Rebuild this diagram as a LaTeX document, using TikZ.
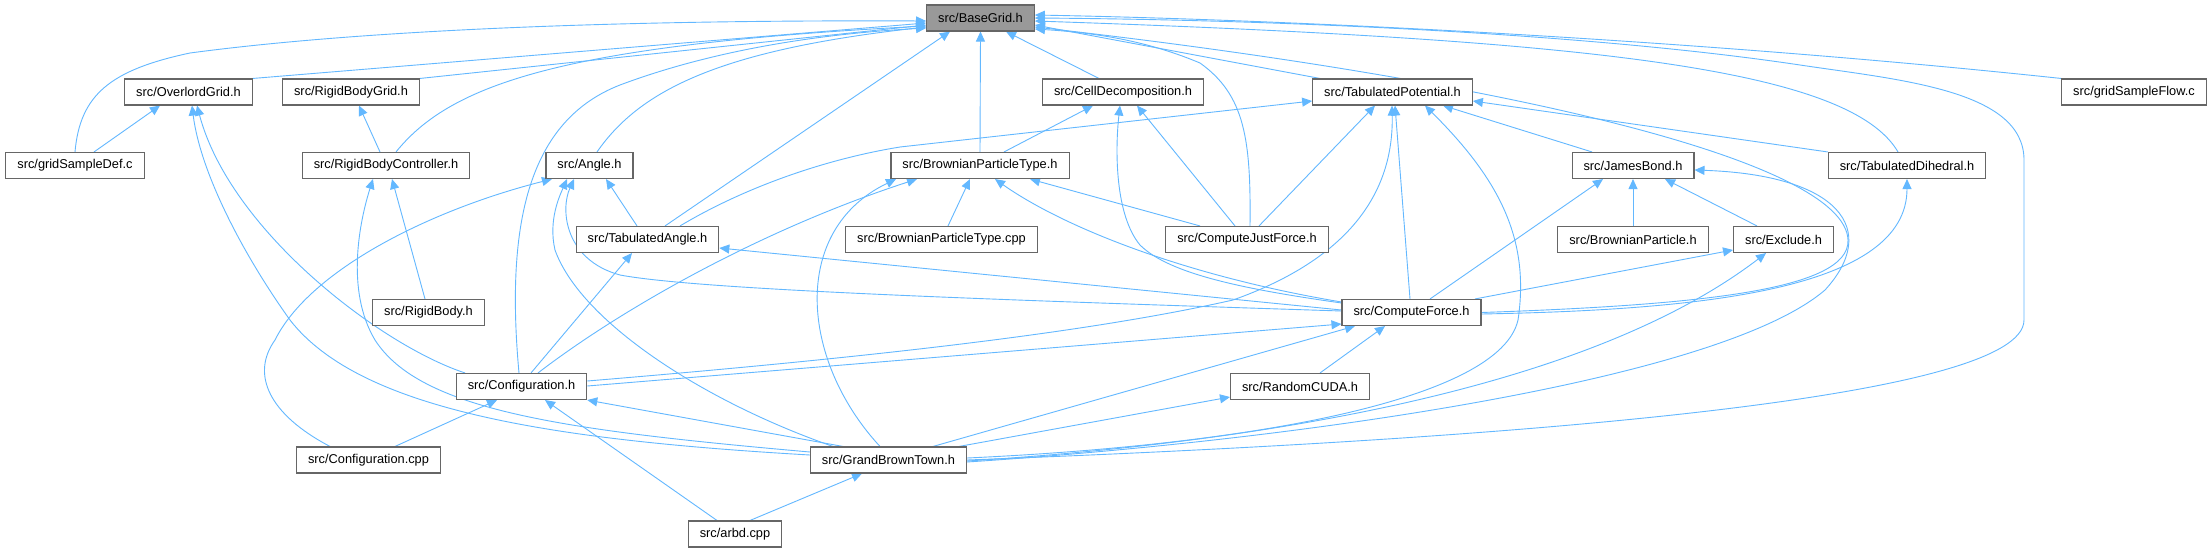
\documentclass[tikz,border=0pt]{standalone}
\usepackage{fontspec}
\setmainfont{Liberation Sans}
\usetikzlibrary{arrows.meta}
\definecolor{edgeblue}{HTML}{63B8FF}
\definecolor{boxgray}{HTML}{666666}
\definecolor{rootfill}{HTML}{999999}
\pgfdeclarelayer{backdrop}
\pgfdeclarelayer{edges}
\pgfsetlayers{backdrop,edges,main}
\begin{document}
\begin{tikzpicture}[x=1pt,y=-1pt,
  box/.style={draw=boxgray, line width=1.1pt, fill=white, minimum height=26pt, inner xsep=11.5pt, inner ysep=0pt, font=\fontsize{12.8}{14}\selectfont, text=black},
  root/.style={box, fill=rootfill},
  dep/.style={draw=edgeblue, line width=0.9pt, -{Triangle[length=10pt,width=9pt]}}]
\begin{pgfonlayer}{backdrop}
\fill[white] (0,0) rectangle (2212,552);
\end{pgfonlayer}
\useasboundingbox (0,0) rectangle (2212,552);
% nodes
\node[root] (BG) at (980.5,18) {src/BaseGrid.h};
\node[box] (OG) at (188.5,92) {src/OverlordGrid.h};
\node[box] (RBG) at (351,92) {src/RigidBodyGrid.h};
\node[box] (CD) at (1123,92) {src/CellDecomposition.h};
\node[box] (TP) at (1392.5,92) {src/TabulatedPotential.h};
\node[box] (GSF) at (2134,92) {src/gridSampleFlow.c};
\node[box] (GSD) at (75,165.5) {src/gridSampleDef.c};
\node[box] (RBC) at (386,165.5) {src/RigidBodyController.h};
\node[box] (AN) at (589.5,165.5) {src/Angle.h};
\node[box] (BPT) at (980,165.5) {src/BrownianParticleType.h};
\node[box] (JB) at (1633,165.5) {src/JamesBond.h};
\node[box] (TD) at (1907,165.5) {src/TabulatedDihedral.h};
\node[box] (TA) at (647.5,239.5) {src/TabulatedAngle.h};
\node[box] (BPTC) at (941.5,239.5) {src/BrownianParticleType.cpp};
\node[box] (CJF) at (1247,239.5) {src/ComputeJustForce.h};
\node[box] (BP) at (1633,239.5) {src/BrownianParticle.h};
\node[box] (EX) at (1783.5,239.5) {src/Exclude.h};
\node[box] (RB) at (428.5,312.5) {src/RigidBody.h};
\node[box] (CF) at (1411.5,312.5) {src/ComputeForce.h};
\node[box] (CH) at (521.5,386.5) {src/Configuration.h};
\node[box] (RC) at (1300,386.5) {src/RandomCUDA.h};
\node[box] (CC) at (368.5,460) {src/Configuration.cpp};
\node[box] (GBT) at (888.5,460) {src/GrandBrownTown.h};
\node[box] (ARBD) at (735,534) {src/arbd.cpp};
\begin{pgfonlayer}{edges}
% into BaseGrid
\draw[dep] (GSD.north -| 75,0) .. controls (80,95) and (110,70) .. (190,53) .. controls (400,25) and (700,20) .. (BG.west |- 0,21);
\draw[dep] (OG.north east) -- (BG.west |- 0,23);
\draw[dep] (RBG.north east) -- (BG.west |- 0,25);
\draw[dep] (RBC.north -| 396,0) .. controls (450,85) and (560,45) .. (BG.west |- 0,26);
\draw[dep] (AN.north -| 597,0) .. controls (640,90) and (720,50) .. (BG.west |- 0,27);
\draw[dep] (CH.north -| 519,0) .. controls (505,220) and (530,120) .. (620,85) .. controls (700,55) and (800,35) .. (BG.west |- 0,28);
\draw[dep] (TA.north -| 665,0) -- (BG.south -| 950,0);
\draw[dep] (BPT.north) -- (BG.south);
\draw[dep] (CD.north -| 1099,0) -- (BG.south -| 1006,0);
\draw[dep] (TP.north -| 1320,0) -- (BG.east |- 0,25);
\draw[dep] (CJF.north -| 1250,0) .. controls (1251,140) and (1245,95) .. (1200,63) .. controls (1150,42) and (1100,33) .. (BG.east |- 0,29);
\draw[dep] (CF.east) .. controls (1700,305) and (1850,290) .. (1848,240) .. controls (1845,160) and (1500,80) .. (BG.east |- 0,27);
\draw[dep] (TD.north -| 1898,0) .. controls (1850,70) and (1600,40) .. (BG.east |- 0,21);
\draw[dep] (GBT.east) .. controls (1500,440) and (2024,400) .. (2024,320) -- (2024,160) .. controls (2024,90) and (1900,80) .. (1800,65) .. controls (1600,35) and (1300,20) .. (BG.east |- 0,18);
\draw[dep] (GSF.north west) .. controls (1700,40) and (1300,20) .. (BG.east |- 0,15);
% OverlordGrid
\draw[dep] (GSD.north -| 94,0) -- (OG.south -| 160,0);
\draw[dep] (CH.north -| 465,0) .. controls (380,345) and (230,230) .. (OG.south -| 197,0);
\draw[dep] (GBT.west |- 0,455) .. controls (550,440) and (360,410) .. (290,320) .. controls (240,250) and (200,170) .. (OG.south -| 192,0);
% RigidBodyGrid
\draw[dep] (RBC.north -| 380,0) -- (RBG.south -| 359,0);
% RigidBodyController
\draw[dep] (RB.north -| 425,0) -- (RBC.south -| 392,0);
\draw[dep] (GBT.west |- 0,452) .. controls (560,430) and (420,410) .. (375,340) .. controls (345,290) and (360,220) .. (RBC.south -| 373,0);
% Angle
\draw[dep] (CC.north -| 330,0) .. controls (270,415) and (250,375) .. (275,340) .. controls (310,270) and (430,210) .. (AN.south -| 552,0);
\draw[dep] (TA.north -| 637,0) -- (AN.south -| 606,0);
\draw[dep] (GBT.north -| 833,0) .. controls (700,400) and (580,320) .. (555,250) .. controls (548,220) and (560,195) .. (AN.south -| 567,0);
\draw[dep] (CF.west |- 0,311) .. controls (1000,300) and (700,290) .. (620,275) .. controls (565,260) and (560,210) .. (AN.south -| 574,0);
% TabulatedAngle
\draw[dep] (CF.west |- 0,310) -- (TA.east |- 0,248);
\draw[dep] (CH.north -| 531,0) -- (TA.south -| 632,0);
% TabulatedPotential
\draw[dep] (TA.north -| 680,0) .. controls (740,190) and (820,160) .. (900,147) -- (TP.west |- 0,101);
\draw[dep] (CJF.north -| 1259,0) -- (TP.south -| 1375,0);
\draw[dep] (CF.north -| 1410,0) -- (TP.south -| 1395,0);
\draw[dep] (CH.east |- 0,381) .. controls (900,355) and (1100,330) .. (1233,300) .. controls (1340,262) and (1394,200) .. (TP.south -| 1392,0);
\draw[dep] (GBT.east |- 0,458) .. controls (1250,445) and (1500,400) .. (1518,320) .. controls (1530,240) and (1500,180) .. (TP.south -| 1425,0);
\draw[dep] (JB.north -| 1592,0) -- (TP.south -| 1443,0);
\draw[dep] (TD.north west) -- (TP.east |- 0,101);
% CellDecomposition
\draw[dep] (BPT.north -| 1004,0) -- (CD.south -| 1093,0);
\draw[dep] (CJF.north -| 1235,0) -- (CD.south -| 1137,0);
\draw[dep] (CF.west |- 0,303) .. controls (1250,290) and (1170,275) .. (1140,245) .. controls (1115,215) and (1115,150) .. (CD.south -| 1120,0);
% BrownianParticleType.h
\draw[dep] (CH.north -| 538,0) .. controls (620,310) and (760,230) .. (BPT.south -| 917,0);
\draw[dep] (GBT.north -| 880,0) .. controls (800,360) and (790,230) .. (BPT.south -| 896,0);
\draw[dep] (BPTC.north -| 948,0) -- (BPT.south -| 970,0);
\draw[dep] (CF.west |- 0,302) .. controls (1180,275) and (1060,225) .. (BPT.south -| 995,0);
\draw[dep] (CJF.north -| 1200,0) -- (BPT.south -| 1030,0);
% JamesBond
\draw[dep] (CF.north -| 1430,0) -- (JB.south -| 1603,0);
\draw[dep] (BP.north) -- (JB.south);
\draw[dep] (EX.north -| 1757,0) -- (JB.south -| 1665,0);
\draw[dep] (GBT.east |- 0,462) .. controls (1300,440) and (1720,380) .. (1825,290) .. controls (1880,230) and (1840,175) .. (JB.east |- 0,170);
% TabulatedDihedral
\draw[dep] (CF.east |- 0,314) .. controls (1700,310) and (1907,290) .. (TD.south);
% Exclude
\draw[dep] (CF.north -| 1475,0) -- (EX.west |- 0,250);
\draw[dep] (GBT.east |- 0,461) .. controls (1300,440) and (1600,380) .. (EX.south -| 1766,0);
% ComputeForce
\draw[dep] (CH.east |- 0,386) -- (CF.west |- 0,324);
\draw[dep] (GBT.north -| 933,0) -- (CF.south -| 1355,0);
\draw[dep] (RC.north -| 1320,0) -- (CF.south -| 1385,0);
% RandomCUDA
\draw[dep] (GBT.north -| 959,0) -- (RC.west |- 0,397);
% Configuration.h
\draw[dep] (GBT.north -| 843,0) -- (CH.south east);
\draw[dep] (ARBD.north -| 717,0) -- (CH.south -| 545,0);
\draw[dep] (CC.north -| 395,0) -- (CH.south -| 497,0);
% GrandBrownTown
\draw[dep] (ARBD.north -| 750,0) -- (GBT.south -| 862,0);
\end{pgfonlayer}
\end{tikzpicture}
\end{document}
